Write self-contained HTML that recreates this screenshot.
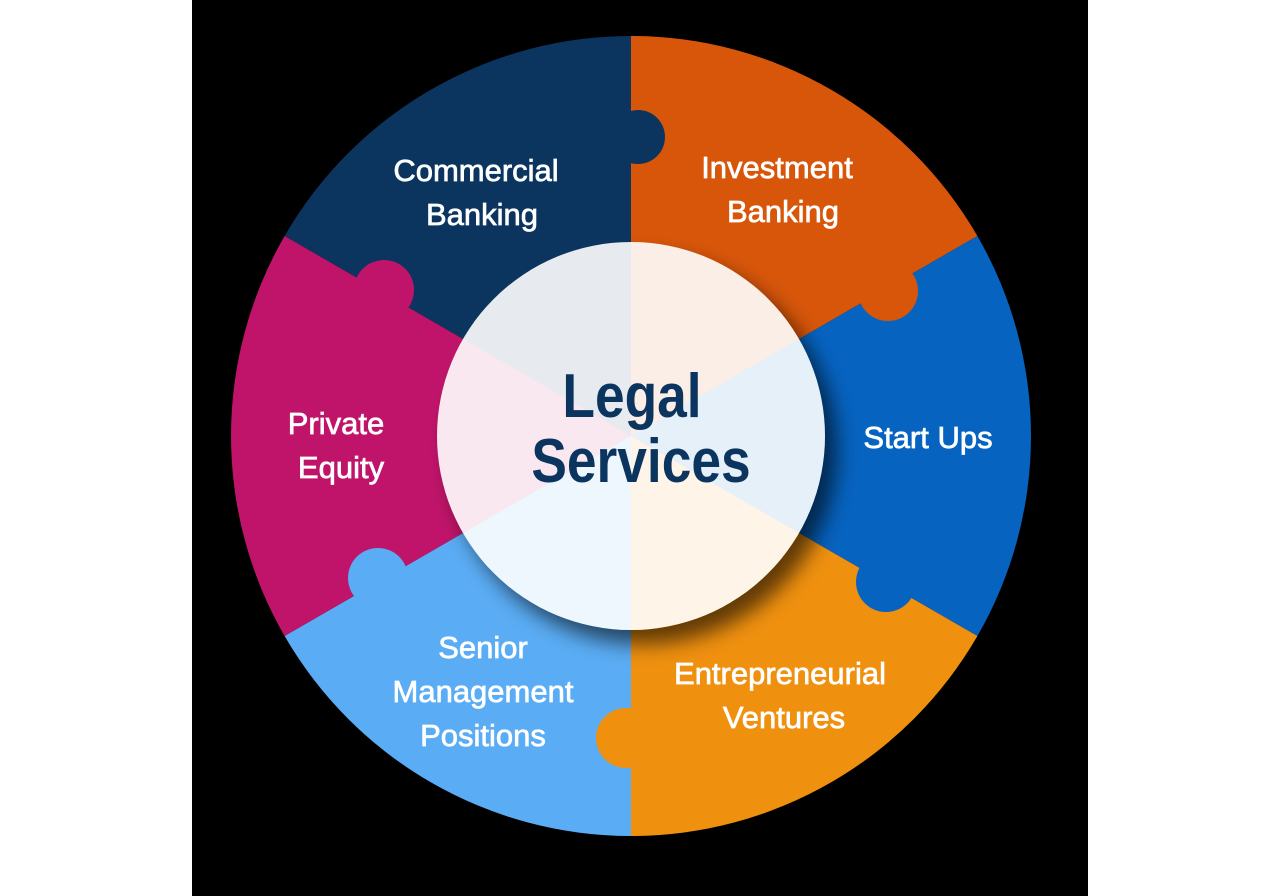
<!DOCTYPE html>
<html><head><style>html,body{margin:0;padding:0;background:#fff}svg{display:block}</style></head>
<body>
<svg width="1281" height="896" viewBox="0 0 1281 896" xmlns="http://www.w3.org/2000/svg">
<defs>
<filter id="blur" x="-30%" y="-30%" width="160%" height="160%"><feGaussianBlur stdDeviation="10"/></filter>
<clipPath id="cc"><circle cx="631" cy="436" r="194"/></clipPath>
<g id="wedges">
<path d="M631,436 L631,36 A400,400 0 0 0 284.6,236 Z" fill="#0b355f"/>
<path d="M631,436 L977.4,236 A400,400 0 0 0 631,36 Z" fill="#d8560a"/>
<path d="M631,436 L977.4,636 A400,400 0 0 0 977.4,236 Z" fill="#0663c0"/>
<path d="M631,436 L631,836 A400,400 0 0 0 977.4,636 Z" fill="#ef900f"/>
<path d="M631,436 L284.6,636 A400,400 0 0 0 631,836 Z" fill="#5aacf4"/>
<path d="M631,436 L284.6,236 A400,400 0 0 0 284.6,636 Z" fill="#c0146a"/>
</g>
</defs>
<rect x="0" y="0" width="1281" height="896" fill="#fff"/>
<rect x="192" y="0" width="896" height="896" fill="#000"/>
<use href="#wedges"/>
<circle cx="638" cy="137" r="27" fill="#0b355f"/>
<circle cx="888" cy="291" r="30" fill="#d8560a"/>
<circle cx="886" cy="582" r="30" fill="#0663c0"/>
<circle cx="626" cy="738" r="30" fill="#ef900f"/>
<circle cx="378" cy="578" r="30" fill="#5aacf4"/>
<circle cx="384" cy="290" r="30" fill="#c0146a"/>
<circle cx="643" cy="450" r="194" fill="#000" fill-opacity="0.6" filter="url(#blur)"/>
<g clip-path="url(#cc)"><use href="#wedges"/></g>
<circle cx="631" cy="436" r="194" fill="#fff" fill-opacity="0.9"/>
<g font-family="Liberation Sans, sans-serif" fill="#fff" stroke="#fff" stroke-width="0.7" font-size="31" text-anchor="middle">
<text x="476" y="181">Commercial</text>
<text x="482" y="225">Banking</text>
<text x="777" y="178">Investment</text>
<text x="783" y="222">Banking</text>
<text x="928" y="448">Start Ups</text>
<text x="780" y="684">Entrepreneurial</text>
<text x="784" y="728">Ventures</text>
<text x="483" y="658">Senior</text>
<text x="483" y="702">Management</text>
<text x="483" y="746">Positions</text>
<text x="336" y="434">Private</text>
<text x="341" y="478">Equity</text>
</g>
<g font-family="Liberation Sans, sans-serif" fill="#0b355f" font-weight="bold" font-size="62" text-anchor="middle">
<text transform="translate(632,417) scale(0.86,1)">Legal</text>
<text transform="translate(641,482) scale(0.86,1)">Services</text>
</g>
</svg>
</body></html>
